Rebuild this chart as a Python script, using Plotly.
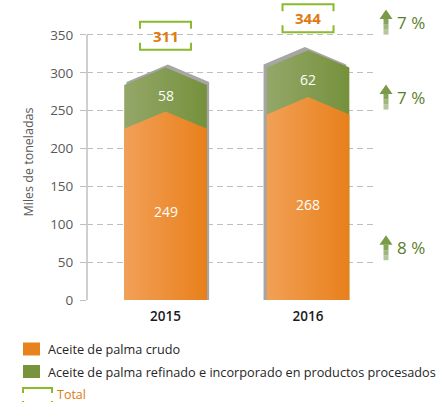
import plotly.graph_objects as go

# ---------------- data ----------------
years = ["2015", "2016"]
crudo = [249, 268]
refinado = [58, 62]
totales = [311, 344]
crecimiento = ["7 %", "7 %", "8 %"]          # total, refinado, crudo
y_ticks = [0, 50, 100, 150, 200, 250, 300, 350]
legend_labels = ["Aceite de palma crudo",
                 "Aceite de palma refinado e incorporado en productos procesados",
                 "Total"]
y_title = "Miles de toneladas"

# ---------------- layout constants ----------------
W, H = 439, 402
ML, MR, MT, MB = 87, 64, 0, 102
PW, PH = W - ML - MR, H - MT - MB
XR = [-0.551, 1.470]
YR = [0, 396.2]
FONT = "Open Sans"
ORANGE_GRAD = [[0, "#F2A057"], [1, "#E8801B"]]
GREEN_GRAD = [[0, "#94A769"], [1, "#75913C"]]
ORANGE = "#E8821E"
GREEN = "#77933C"
LIME = "#8DB92E"
TXT_ORANGE = "#E07A10"
TXT_GREEN = "#5B7D2B"
GRID = "#BFBFBF"
BW = 0.58       # bar width (category units)
D = 23          # chevron depth (value units)
ARROW_Y = [367, 268, 69]


def pxx(xp):
    return (xp - ML) / PW


def pyy(yp):
    return (H - MB - yp) / PH


fig = go.Figure()
shapes = []
annotations = []

for i, yr in enumerate(years):
    xc = i
    l, r = xc - BW / 2, xc + BW / 2
    t1 = crudo[i]
    t2 = crudo[i] + refinado[i]
    # shadow
    sdx = 0.016 if i == 0 else -0.022
    sdy = 4
    fig.add_trace(go.Scatter(
        x=[l + sdx, r + sdx, r + sdx, xc + sdx, l + sdx, l + sdx],
        y=[0, 0, t2 - D + sdy, t2 + sdy, t2 - D + sdy, 0],
        mode="lines", line=dict(width=0), fill="toself",
        fillcolor="#A6A6A6", hoverinfo="skip", showlegend=False))
    # green (full height, orange drawn over)
    fig.add_trace(go.Scatter(
        x=[l, r, r, xc, l, l],
        y=[0, 0, t2 - D, t2, t2 - D, 0],
        mode="lines", line=dict(width=0), fill="toself",
        fillgradient=dict(type="horizontal", colorscale=GREEN_GRAD),
        hoverinfo="skip", showlegend=False))
    # orange
    fig.add_trace(go.Scatter(
        x=[l, r, r, xc, l, l],
        y=[0, 0, t1 - D, t1, t1 - D, 0],
        mode="lines", line=dict(width=0), fill="toself",
        fillgradient=dict(type="horizontal", colorscale=ORANGE_GRAD),
        hoverinfo="skip", showlegend=False))
    # value labels
    annotations.append(dict(x=xc, y=t1 / 2, xref="x", yref="y", yshift=-6,
                            text=str(crudo[i]), showarrow=False,
                            font=dict(family=FONT, size=14, color="white")))
    annotations.append(dict(x=xc, y=(t1 + t2) / 2, xref="x", yref="y", yshift=-6,
                            text=str(refinado[i]), showarrow=False,
                            font=dict(family=FONT, size=14, color="white")))
    # total bracket box
    yb = t2 + 42
    shapes.append(dict(type="path", xref="x", yref="y", xsizemode="pixel",
                       ysizemode="pixel", xanchor=xc, yanchor=yb,
                       path="M -25.5,7 L -25.5,14 L 25.5,14 L 25.5,7 "
                            "M -25.5,-7 L -25.5,-14 L 25.5,-14 L 25.5,-7",
                       line=dict(color=LIME, width=2)))
    annotations.append(dict(x=xc, y=yb, xref="x", yref="y", text=str(totales[i]),
                            showarrow=False,
                            font=dict(family=FONT, size=15, color=TXT_ORANGE,
                                      weight="bold")))

# growth arrows (dark head, shaft fading to light)
HEAD_PATH = "M -6.5,3 L 0,12.5 L 6.5,3 Z"
SHAFT_STEPS = [(-12.5, -7.5, "#B4C79A"), (-7.5, -2.5, "#9FB77D"),
               (-2.5, 3.2, "#88A45A")]
for lab, ya in zip(crecimiento, ARROW_Y):
    shapes.append(dict(type="path", xref="paper", yref="y", xsizemode="pixel",
                       ysizemode="pixel", xanchor=pxx(386), yanchor=ya,
                       path=HEAD_PATH, fillcolor="#7A9A48",
                       line=dict(width=0)))
    for y0s, y1s, c in SHAFT_STEPS:
        shapes.append(dict(type="rect", xref="paper", yref="y",
                           xsizemode="pixel", ysizemode="pixel",
                           xanchor=pxx(386), yanchor=ya,
                           x0=-2.5, x1=2.5, y0=y0s, y1=y1s,
                           fillcolor=c, line=dict(width=0)))
    annotations.append(dict(x=pxx(395), y=ya, xref="paper", yref="y",
                            xanchor="left", yanchor="middle", text=lab,
                            showarrow=False,
                            font=dict(family=FONT, size=17, color=TXT_GREEN)))

# y axis line (0..350)
shapes.append(dict(type="line", xref="paper", yref="y", x0=0, x1=0,
                   y0=0, y1=y_ticks[-1], line=dict(color=GRID, width=1.5)))

# y title
annotations.append(dict(x=pxx(17), y=pyy(162), xref="paper", yref="paper",
                        text=y_title, textangle=-90, showarrow=False,
                        font=dict(family=FONT, size=12.5, color="#595959")))

# legend
legend_y = [349, 371.5]
for lab, col, yy in zip(legend_labels[:2], [ORANGE, GREEN], legend_y):
    shapes.append(dict(type="rect", xref="paper", yref="paper",
                       x0=pxx(23), x1=pxx(40), y0=pyy(yy - 6.5), y1=pyy(yy + 6.5),
                       fillcolor=col, line=dict(width=0)))
    annotations.append(dict(x=pxx(46), y=pyy(yy), xref="paper", yref="paper",
                            xanchor="left", yanchor="middle", text=lab,
                            showarrow=False,
                            font=dict(family=FONT, size=12.7, color="#262626")))
shapes.append(dict(type="path", xref="paper", yref="paper", xsizemode="pixel",
                   ysizemode="pixel", xanchor=pxx(37.5), yanchor=pyy(397),
                   path="M -14.5,4 L -14.5,9 L 14.5,9 L 14.5,4 "
                        "M -14.5,-4 L -14.5,-9 L 14.5,-9 L 14.5,-4",
                   line=dict(color=LIME, width=2)))
annotations.append(dict(x=pxx(55), y=pyy(394), xref="paper", yref="paper",
                        xanchor="left", yanchor="middle", text=legend_labels[2],
                        showarrow=False,
                        font=dict(family=FONT, size=12.5, color=TXT_ORANGE)))

fig.update_layout(
    width=W, height=H,
    margin=dict(l=ML, r=MR, t=MT, b=MB, pad=0),
    paper_bgcolor="white", plot_bgcolor="white",
    showlegend=False,
    shapes=shapes, annotations=annotations,
    xaxis=dict(range=XR, tickvals=[0, 1], ticktext=years, showgrid=False,
               zeroline=False, showline=False, ticks="",
               tickfont=dict(family=FONT, size=13.5, color="#1A1A1A", weight=600),
               ticklabelstandoff=6, fixedrange=True),
    yaxis=dict(range=YR, tickvals=y_ticks, showgrid=True, gridcolor=GRID,
               griddash="6px,4px", gridwidth=1, zeroline=False, showline=False,
               ticks="outside", ticklen=6, tickcolor=GRID, tickwidth=1,
               tickfont=dict(family=FONT, size=13.5, color="#595959"),
               ticklabelstandoff=4, fixedrange=True),
)

fig.write_html("out.html", config={"displayModeBar": False},
               post_script="document.body.style.margin='0px';"
                           "document.body.style.overflow='hidden';")
